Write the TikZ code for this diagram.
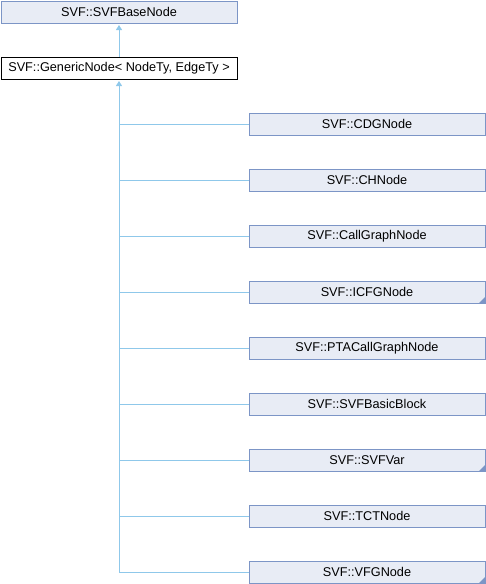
\documentclass[tikz,border=0pt]{standalone}
\usepackage{fontspec}
\setmainfont{Liberation Sans}
\usetikzlibrary{positioning,arrows.meta}
\definecolor{boxfill}{HTML}{E8ECF5}
\definecolor{boxline}{HTML}{7C95C6}
\definecolor{edgeblue}{HTML}{8FC8EA}

\begin{document}
\begin{tikzpicture}[x=1pt,y=1pt]
     \tikzset{classnode/.style={draw=boxline, fill=boxfill, line width=1pt, minimum width=236pt, minimum height=22pt, inner sep=0pt, font=\fontsize{12.7}{14}\selectfont}}
     \tikzset{basenode/.style={classnode, draw=black, fill=white}}
     \tikzset{line/.style={draw=edgeblue, line width=1pt}}
     \tikzset{inherit/.style={line, {Triangle[length=5pt,width=6pt]}-, shorten <=1.5pt}}
     \tikzset{more/.style={path picture={\fill[boxline] (path picture bounding box.south east) -- ++(-6pt,0) -- ++(6pt,6pt) -- cycle;}}}
     \useasboundingbox (0,0) rectangle (486,-584);
     \node [classnode, anchor=north west] (svfbase) at (0.5,-0.5) {SVF::SVFBaseNode};
     \node [basenode, below=33pt of svfbase] (generic) {SVF::GenericNode< NodeTy, EdgeTy >};

     \node [classnode, anchor=north west] (cdg) at (248.5,-112.5) {SVF::CDGNode};
     \node [classnode, below=33pt of cdg] (ch) {SVF::CHNode};
     \node [classnode, below=33pt of ch] (callgraph) {SVF::CallGraphNode};
     \node [classnode, more, below=33pt of callgraph] (icfg) {SVF::ICFGNode};
     \node [classnode, below=33pt of icfg] (ptacg) {SVF::PTACallGraphNode};
     \node [classnode, below=33pt of ptacg] (bb) {SVF::SVFBasicBlock};
     \node [classnode, more, below=33pt of bb] (svfvar) {SVF::SVFVar};
     \node [classnode, below=33pt of svfvar] (tct) {SVF::TCTNode};
     \node [classnode, more, below=33pt of tct] (vfg) {SVF::VFGNode};

     \draw [inherit] (svfbase.south) -- (generic.north);
     \draw [inherit] (generic.south) -- (generic.south |- vfg.west);

     \draw [line] (generic.south |- cdg.west) -- (cdg.west);
     \draw [line] (generic.south |- ch.west) -- (ch.west);
     \draw [line] (generic.south |- callgraph.west) -- (callgraph.west);
     \draw [line] (generic.south |- icfg.west) -- (icfg.west);
     \draw [line] (generic.south |- ptacg.west) -- (ptacg.west);
     \draw [line] (generic.south |- bb.west) -- (bb.west);
     \draw [line] (generic.south |- svfvar.west) -- (svfvar.west);
     \draw [line] (generic.south |- tct.west) -- (tct.west);
     \draw [line] (generic.south |- vfg.west) -- (vfg.west);
\end{tikzpicture}
\end{document}
